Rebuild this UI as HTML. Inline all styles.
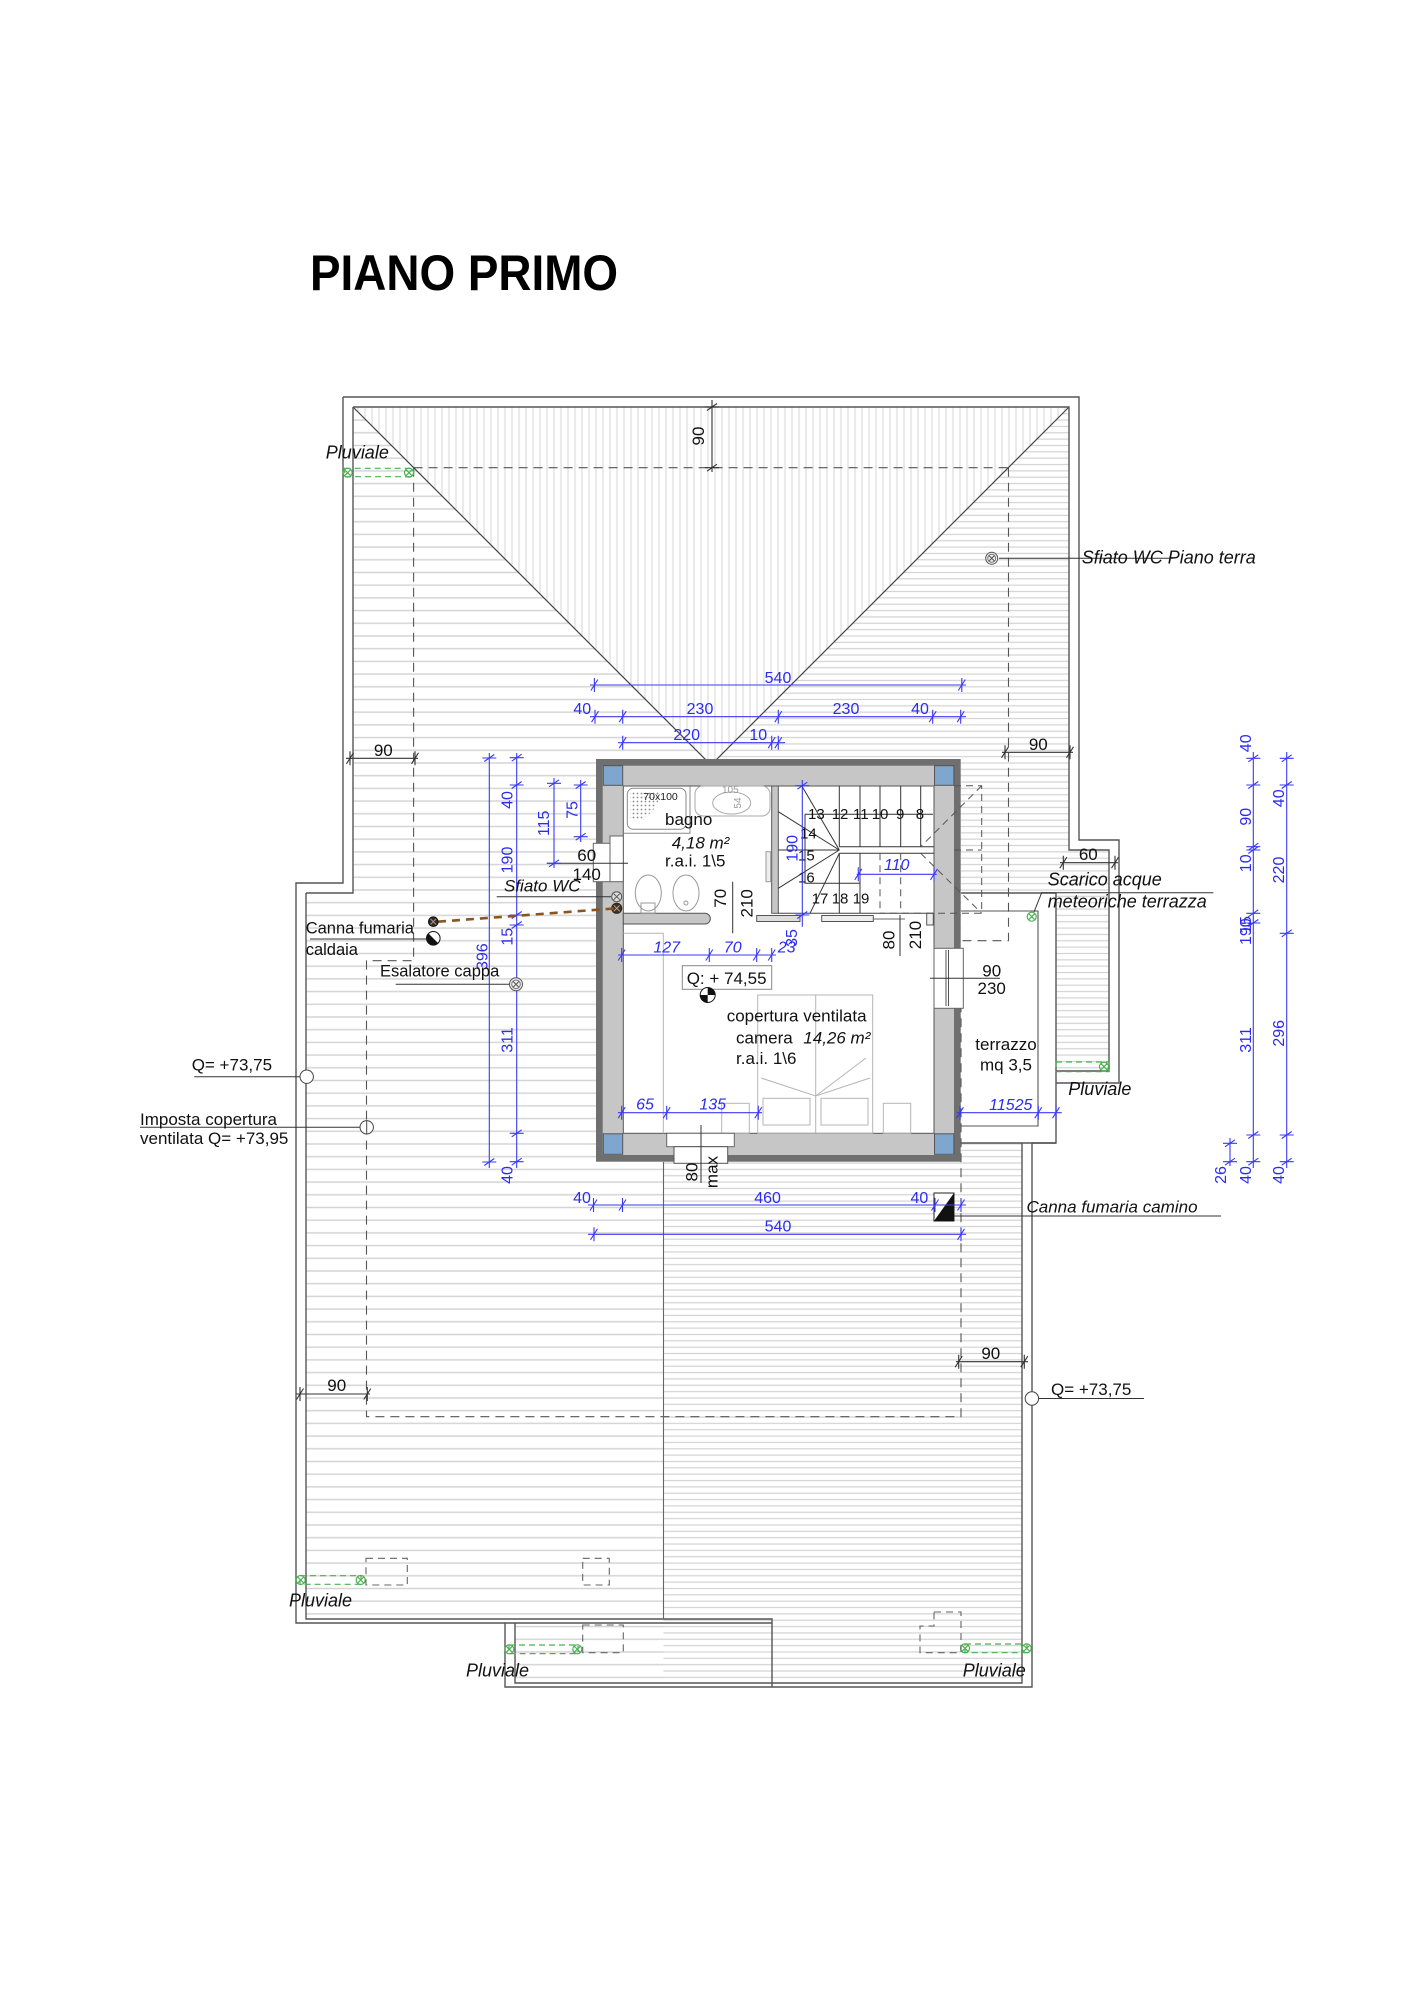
<!DOCTYPE html>
<html><head><meta charset="utf-8"><style>
html,body{margin:0;padding:0;background:#fff}
svg{display:block}
.b{fill:#2b2bf2;font-family:"Liberation Sans",sans-serif;font-size:16px}
.bi{fill:#2b2bf2;font-family:"Liberation Sans",sans-serif;font-size:16px;font-style:italic}
.k{fill:#111;font-family:"Liberation Sans",sans-serif;font-size:17px}
.ki{fill:#111;font-family:"Liberation Sans",sans-serif;font-size:17px;font-style:italic}
.s{fill:#111;font-family:"Liberation Sans",sans-serif;font-size:15px}
</style></head><body>
<svg width="1415" height="1999" viewBox="0 0 1415 1999" xmlns="http://www.w3.org/2000/svg">
<defs>
<pattern id="hh" width="40" height="12.7" patternUnits="userSpaceOnUse"><rect width="40" height="12.7" fill="#fff"/><line x1="0" y1="1" x2="40" y2="1" stroke="#d4d4d4" stroke-width="1.4"/></pattern>
<pattern id="hd" width="40" height="6.35" patternUnits="userSpaceOnUse"><rect width="40" height="6.35" fill="#fff"/><line x1="0" y1="1" x2="40" y2="1" stroke="#d3d3d3" stroke-width="1.2"/></pattern>
<pattern id="vv" width="7" height="40" patternUnits="userSpaceOnUse"><rect width="7" height="40" fill="#fff"/><line x1="1" y1="0" x2="1" y2="40" stroke="#d9d9d9" stroke-width="1.1"/></pattern>
<pattern id="dots" width="4" height="4" patternUnits="userSpaceOnUse"><circle cx="1.5" cy="1.5" r="0.9" fill="#8a8a8a"/></pattern>
</defs>
<rect width="1415" height="1999" fill="#fff"/>

<text x="310" y="290" font-family="Liberation Sans, sans-serif" font-weight="bold" font-size="50" textLength="308" lengthAdjust="spacingAndGlyphs" fill="#000">PIANO PRIMO</text>

<!-- roof hatching -->
<path d="M353,407 H1069 V850 H1109 V1071 H1056 V1143 H1022 V1683 H515 V1621 H306 V893 H353 Z" fill="url(#hh)"/>
<path d="M717,759 L1069,407 V850 H1109 V1071 H1056 V1143 H1022 V1683 H663.5 V1162 H961 V759 Z" fill="url(#hd)"/>
<path d="M353,407 H1069 L711,765 Z" fill="url(#vv)"/>
<rect x="961" y="893" width="95" height="250" fill="#fff"/>

<!-- dashed eave lines -->
<path d="M413.6,467.7 H1008.5 M413.6,467.7 V960.7 H366.5 V1416.7 H961 V1008 M1008.5,467.7 V940.7 H961" fill="none" stroke="#555" stroke-width="1.1" stroke-dasharray="9 6"/>

<!-- hips -->
<path d="M353,407 L711,765 M1069,407 L711,765" stroke="#444" stroke-width="1.2" fill="none"/>

<!-- roof outlines -->
<g fill="none" stroke="#555" stroke-width="1.4">
<path d="M343,397 H1079 V840 H1119 V1083 H1056"/>
<path d="M1056,893 V1143 H1032 V1687 H505 V1623 H296 V883 H343 V397"/>
<path d="M353,407 H1069 V850 H1109 V1071 H1056"/>
<path d="M1022,1143 V1683 H515 V1623"/>
<path d="M306,893 V1619 H772 V1687"/>
<path d="M353,407 V893 H306"/>
<path d="M505,1623 H772"/>
<path d="M961,893 H1056 M961,1143 H1056"/>
<path d="M961,911 H1038 V1126 H961" stroke-width="1.1"/>
<path d="M663.5,1162 V1619" stroke="#666" stroke-width="1.1"/>
</g>

<!-- green pluviali -->
<g fill="none" stroke="#4cb050" stroke-width="1.2">
<rect x="344.7" y="468.3" width="69" height="8.4" stroke-dasharray="6 4"/>
<rect x="300" y="1575.7" width="61" height="8.6" stroke-dasharray="6 4"/>
<rect x="509" y="1645" width="69" height="8.6" stroke-dasharray="6 4"/>
<rect x="965" y="1644" width="62" height="8.7" stroke-dasharray="6 4"/>
<rect x="1056" y="1062" width="53" height="9.7" stroke-dasharray="6 4"/>
<circle cx="347.6" cy="472.7" r="4.5"/><path d="M344.6,469.7 L350.6,475.7 M350.6,469.7 L344.6,475.7"/>
<circle cx="409" cy="472.7" r="4.5"/><path d="M406,469.7 L412,475.7 M412,469.7 L406,475.7"/>
<circle cx="300.7" cy="1580" r="4.5"/><path d="M297.7,1577 L303.7,1583 M303.7,1577 L297.7,1583"/>
<circle cx="360.7" cy="1580" r="4.5"/><path d="M357.7,1577 L363.7,1583 M363.7,1577 L357.7,1583"/>
<circle cx="509.3" cy="1649.3" r="4.5"/><path d="M506.3,1646.3 L512.3,1652.3 M512.3,1646.3 L506.3,1652.3"/>
<circle cx="577.3" cy="1649.3" r="4.5"/><path d="M574.3,1646.3 L580.3,1652.3 M580.3,1646.3 L574.3,1652.3"/>
<circle cx="965" cy="1648.3" r="4.5"/><path d="M962,1645.3 L968,1651.3 M968,1645.3 L962,1651.3"/>
<circle cx="1026.7" cy="1648.3" r="4.5"/><path d="M1023.7,1645.3 L1029.7,1651.3 M1029.7,1645.3 L1023.7,1651.3"/>
<circle cx="1104" cy="1066.7" r="4.5"/><path d="M1101,1063.7 L1107,1069.7 M1107,1063.7 L1101,1069.7"/>
<circle cx="1031.7" cy="916.7" r="4.5"/><path d="M1028.7,913.7 L1034.7,919.7 M1034.7,913.7 L1028.7,919.7"/>
</g>

<!-- gray dashed small rects -->
<g fill="none" stroke="#666" stroke-width="1.1" stroke-dasharray="7 5">
<rect x="366" y="1558.3" width="41.3" height="26.7"/>
<rect x="582.7" y="1558.3" width="26.6" height="26.7"/>
<rect x="582.7" y="1625" width="40.6" height="27.7"/>
<path d="M934,1612 H961 V1652.7 H920 V1626 H934 Z"/>
</g>

<!-- building -->
<rect x="596" y="759" width="364.7" height="402.7" fill="#6f6f6f"/>
<rect x="602.7" y="765.7" width="351.3" height="389.3" fill="#c6c6c6"/>
<rect x="623.3" y="786" width="310.7" height="347.3" fill="#fff" stroke="#555" stroke-width="1"/>
<g fill="#7ea6cf" stroke="#555" stroke-width="1">
<rect x="603.3" y="765.7" width="19.4" height="19.6"/>
<rect x="934.5" y="765.7" width="19.4" height="19.6"/>
<rect x="603.3" y="1133.8" width="19.4" height="20.5"/>
<rect x="934.5" y="1133.8" width="19.4" height="20.5"/>
</g>
<!-- interior walls -->
<rect x="771.7" y="786" width="6.6" height="127.3" fill="#c6c6c6" stroke="#555"/>
<path d="M623.3,913.3 H705 A5.3,5.3 0 0 1 705,924 H623.3 Z" fill="#c6c6c6" stroke="#555"/>
<path d="M778.3,913.3 H934" stroke="#444" fill="none"/>
<rect x="756.7" y="915.5" width="43.3" height="6" fill="#ddd" stroke="#555"/>
<rect x="821.7" y="915.5" width="51.6" height="6" fill="#eee" stroke="#555"/>
<path d="M873.3,919 H905" stroke="#666"/>
<rect x="926.7" y="913.3" width="6.6" height="11.7" fill="#eee" stroke="#555"/>

<!-- stair -->
<g stroke="#333" stroke-width="1" fill="none">
<path d="M839.3,785.7 V846.7 M860,785.7 V846.7 M880,785.7 V846.7 M900.7,785.7 V846.7 M920.7,785.7 V846.7"/>
<path d="M839.3,846.7 H934 M839.3,853.3 H934 M778.3,850 H839.3"/>
<path d="M805,814.3 H933 M805,814.3 V883.3 H860"/>
<path d="M839.3,850 L778.3,811.7 M839.3,850 L801.7,785.7 M839.3,850 L778.3,888.3 M839.3,853.3 L810,913.3"/>
<path d="M839.3,853.3 V913.3 M860,853.3 V913.3"/>
</g>
<g stroke="#555" stroke-width="1" fill="none" stroke-dasharray="7 5">
<path d="M954,785.7 H981.7 V913.3 H880 M954,850 H981.7 M981.7,785.7 L920.7,846.7 M920.7,853.3 L981.7,913.3 M880,853.3 V913.3 M900.7,853.3 V913.3"/>
</g>
<g class="s">
<text x="808" y="819">13</text><text x="831.7" y="819">12</text><text x="853" y="819">11</text><text x="871.7" y="819">10</text><text x="896" y="819">9</text><text x="915.7" y="819">8</text>
<text x="800" y="838.3">14</text><text x="798" y="860.7">15</text><text x="798" y="882.3">16</text>
<text x="811.7" y="903.3">17</text><text x="831.7" y="903.3">18</text><text x="852.7" y="903.3">19</text>
</g>

<!-- bathroom -->
<g fill="none" stroke="#888" stroke-width="1">
<path d="M623.3,833.3 H690 V786"/>
<rect x="627.3" y="788.3" width="58.7" height="41" rx="6"/>
<rect x="695" y="786" width="75" height="30" rx="8" stroke="#aaa"/>
<ellipse cx="731.7" cy="803" rx="19" ry="11" stroke="#aaa"/>
<ellipse cx="648.3" cy="893" rx="13" ry="18" stroke="#999"/>
<rect x="641" y="903" width="14" height="10" stroke="#999"/>
<ellipse cx="686" cy="893" rx="13" ry="18" stroke="#999"/>
<circle cx="686" cy="903" r="2" stroke="#999"/>
</g>
<path d="M630,791 H660 A30,30 0 0 1 630,821 Z" fill="url(#dots)"/>
<text x="643.3" y="800" font-family="Liberation Sans, sans-serif" font-size="10.5" fill="#222">70x100</text>
<text x="722" y="793" font-family="Liberation Sans, sans-serif" font-size="10" fill="#999">105</text>
<text transform="translate(741,803) rotate(-90)" text-anchor="middle" font-family="Liberation Sans, sans-serif" font-size="10" fill="#999">54</text>
<rect x="766" y="851.7" width="4.7" height="30" fill="#eee" stroke="#999"/>
<text class="k" x="665" y="825" font-size="16.5">bagno</text>
<text class="ki" x="671.7" y="848.3" font-size="13">4,18 m²</text>
<text class="k" x="665" y="866.7" font-size="16.5">r.a.i. 1\5</text>
<!-- bath window left -->
<rect x="610" y="836" width="13.3" height="45.7" fill="#fff" stroke="#666"/>
<rect x="593.3" y="843.3" width="16.7" height="38.4" fill="#fff" stroke="#666"/>
<path d="M546.7,863.3 H628" stroke="#333" stroke-width="1"/>
<text class="k" x="586.7" y="861" text-anchor="middle" font-size="18">60</text>
<text class="k" x="586.7" y="880" text-anchor="middle" font-size="18">140</text>
<!-- vents -->
<circle cx="616.7" cy="896.7" r="5" fill="#ddd" stroke="#555"/><path d="M613.7,893.7 L619.7,899.7 M619.7,893.7 L613.7,899.7" stroke="#555"/>
<circle cx="616.7" cy="908.3" r="5" fill="#4a3015" stroke="#222"/><path d="M613.7,905.3 L619.7,911.3 M619.7,905.3 L613.7,911.3" stroke="#aaa"/>
<!-- doors -->
<path d="M732.7,881.7 V933.3 M900,915 V956" stroke="#333" stroke-width="1"/>
<text class="k" transform="translate(726,898.3) rotate(-90)" text-anchor="middle">70</text>
<text class="k" transform="translate(752.7,903.3) rotate(-90)" text-anchor="middle">210</text>
<text class="k" transform="translate(894.3,940) rotate(-90)" text-anchor="middle">80</text>
<text class="k" transform="translate(921,935) rotate(-90)" text-anchor="middle">210</text>

<!-- camera -->
<g fill="none" stroke="#b5b5b5" stroke-width="1">
<path d="M623.3,933.3 H663.3 V1133.3"/>
<rect x="757.7" y="995" width="115" height="138.3"/>
<path d="M815.7,995 V1133.3"/>
<rect x="763" y="1098.3" width="47" height="26.7"/>
<rect x="821" y="1098.3" width="47" height="26.7"/>
<path d="M761,1078 L815.7,1096 L870,1078 M815.7,1096 L866,1058"/>
<rect x="721.7" y="1103.3" width="27.6" height="30"/>
<rect x="883.3" y="1103.3" width="27.4" height="30"/>
</g>
<rect x="682.3" y="965.7" width="89.4" height="23.6" fill="#fff" stroke="#888"/>
<text class="k" x="686.7" y="984" font-size="16.5">Q: + 74,55</text>
<circle cx="707.7" cy="995" r="7.5" fill="#fff" stroke="#111"/>
<path d="M707.7,995 L707.7,987.5 A7.5,7.5 0 0 1 715.2,995 Z M707.7,995 L707.7,1002.5 A7.5,7.5 0 0 1 700.2,995 Z" fill="#111"/>
<text class="k" x="726.7" y="1021.7" font-size="16.5">copertura ventilata</text>
<text class="k" x="736" y="1043.3" font-size="16.5">camera</text>
<text class="ki" x="803.3" y="1043.3" font-size="13">14,26 m²</text>
<text class="k" x="736" y="1064" font-size="16.5">r.a.i. 1\6</text>
<!-- right window -->
<rect x="934" y="948.3" width="29.3" height="60" fill="#fff" stroke="#666"/>
<path d="M946,950 V1006 M948.5,950 V1006" stroke="#555"/>
<path d="M930,978.3 H1000" stroke="#333"/>
<text class="k" x="991.7" y="976.7" text-anchor="middle" font-size="18">90</text>
<text class="k" x="991.7" y="994" text-anchor="middle" font-size="18">230</text>
<!-- bottom window -->
<rect x="666.7" y="1133.3" width="67.6" height="13.4" fill="#fff" stroke="#666"/>
<rect x="674" y="1146.7" width="53.7" height="16.6" fill="#fff" stroke="#555"/>
<path d="M701,1125 V1183" stroke="#333"/>
<text class="k" transform="translate(697.7,1172) rotate(-90)" text-anchor="middle">80</text>
<text class="k" transform="translate(717.5,1172) rotate(-90)" text-anchor="middle">max</text>

<!-- terrace labels -->
<text class="k" x="1006" y="1050" text-anchor="middle">terrazzo</text>
<text class="k" x="1006" y="1070.7" text-anchor="middle">mq 3,5</text>

<!-- canna fumaria camino -->
<rect x="934" y="1193" width="20" height="28" fill="#fff" stroke="#222"/>
<path d="M954,1193 L954,1221 L934,1221 Z" fill="#111"/>
<path d="M954,1216 H1221" stroke="#333"/>
<text class="ki" x="1026.5" y="1212.7" font-size="17.5">Canna fumaria  camino</text>

<!-- blue dimensions -->
<g stroke="#3a3af5" stroke-width="1.1" fill="none">
<path d="M590,685 H966 M590,716.7 H966 M618,742.7 H785 M588,1205 H966 M588,1234.3 H966 M618,955 H776 M618,1112.7 H762 M956.7,1112.7 H1061.7 M856.7,874.3 H936.7"/>
<path d="M802.3,780 V926.7 M489.3,753 V1168 M516.7,753 V1168 M554,778 V868 M580.7,780 V842 M1253.3,752 V1168 M1286.7,752 V1168 M1230,1138 V1166"/>
<path d="M590.9,690.5L597.9,679.5M594.4,678V692 M958.3,690.5L965.3,679.5M961.8,678V692
M591.5,722.2L598.5,711.2M595,709.7V723.7 M619.2,722.2L626.2,711.2M622.7,709.7V723.7 M774.8,722.2L781.8,711.2M778.3,709.7V723.7 M929.2,722.2L936.2,711.2M932.7,709.7V723.7 M957.2,722.2L964.2,711.2M960.7,709.7V723.7
M619.2,748.2L626.2,737.2M622.7,735.7V749.7 M768.2,748.2L775.2,737.2M771.7,735.7V749.7 M774.8,748.2L781.8,737.2M778.3,735.7V749.7
M590,1210.5L597,1199.5M593.5,1198V1212 M619,1210.5L626,1199.5M622.5,1198V1212 M931.5,1210.5L938.5,1199.5M935,1198V1212 M957.5,1210.5L964.5,1199.5M961,1198V1212
M590.5,1239.8L597.5,1228.8M594,1227.3V1241.3 M957.5,1239.8L964.5,1228.8M961,1227.3V1241.3
M618.2,960.5L625.2,949.5M621.7,948V962 M705.8,960.5L712.8,949.5M709.3,948V962 M753.2,960.5L760.2,949.5M756.7,948V962 M768.2,960.5L775.2,949.5M771.7,948V962
M618.2,1118.2L625.2,1107.2M621.7,1105.7V1119.7 M663.2,1118.2L670.2,1107.2M666.7,1105.7V1119.7 M754.8,1118.2L761.8,1107.2M758.3,1105.7V1119.7
M956.5,1118.2L963.5,1107.2M960,1105.7V1119.7 M1034.8,1118.2L1041.8,1107.2M1038.3,1105.7V1119.7 M1052.5,1118.2L1059.5,1107.2M1056,1105.7V1119.7
M854.8,879.8L861.8,868.8M858.3,867.3V881.3 M930.5,879.8L937.5,868.8M934,867.3V881.3"/>
<path d="M795.3,785.7H809.3M797.3,789.2L807.3,782.2 M795.3,915H809.3M797.3,918.5L807.3,911.5
M482.3,758H496.3M484.3,761.5L494.3,754.5 M482.3,1162H496.3M484.3,1165.5L494.3,1158.5
M509.7,757.7H523.7M511.7,761.2L521.7,754.2 M509.7,785H523.7M511.7,788.5L521.7,781.5 M509.7,915H523.7M511.7,918.5L521.7,911.5 M509.7,925H523.7M511.7,928.5L521.7,921.5 M509.7,1133.3H523.7M511.7,1136.8L521.7,1129.8 M509.7,1161.7H523.7M511.7,1165.2L521.7,1158.2
M547,783.3H561M549,786.8L559,779.8 M547,863.3H561M549,866.8L559,859.8
M573.7,785H587.7M575.7,788.5L585.7,781.5 M573.7,836.7H587.7M575.7,840.2L585.7,833.2
M1246.3,758.3H1260.3M1248.3,761.8L1258.3,754.8 M1246.3,785H1260.3M1248.3,788.5L1258.3,781.5 M1246.3,846.7H1260.3M1248.3,850.2L1258.3,843.2 M1246.3,850H1260.3M1248.3,853.5L1258.3,846.5 M1246.3,913.3H1260.3M1248.3,916.8L1258.3,909.8 M1246.3,923H1260.3M1248.3,926.5L1258.3,919.5 M1246.3,1135H1260.3M1248.3,1138.5L1258.3,1131.5 M1246.3,1161.7H1260.3M1248.3,1165.2L1258.3,1158.2
M1279.7,758.3H1293.7M1281.7,761.8L1291.7,754.8 M1279.7,785H1293.7M1281.7,788.5L1291.7,781.5 M1279.7,933.3H1293.7M1281.7,936.8L1291.7,929.8 M1279.7,1135H1293.7M1281.7,1138.5L1291.7,1131.5 M1279.7,1161.7H1293.7M1281.7,1165.2L1291.7,1158.2
M1223,1143.3H1237M1225,1146.8L1235,1139.8 M1223,1161.7H1237M1225,1165.2L1235,1158.2"/>
</g>
<g class="b" text-anchor="middle">
<text x="778" y="683">540</text>
<text x="582.3" y="714">40</text><text x="700" y="714">230</text><text x="846" y="714">230</text><text x="920" y="714">40</text>
<text x="686.7" y="740">220</text><text x="758.3" y="740">10</text>
<text x="582" y="1203">40</text><text x="767.6" y="1203">460</text><text x="919.4" y="1203">40</text>
<text x="778" y="1231.7">540</text>
</g>
<g class="bi" text-anchor="middle">
<text x="666.7" y="952.5">127</text><text x="732.7" y="952.5">70</text><text x="786.7" y="952.5">23</text>
<text x="645" y="1109.3">65</text><text x="712.7" y="1109.3">135</text>
<text x="1010.8" y="1110">11525</text>
<text x="896.7" y="870">110</text>
</g>
<g class="b" text-anchor="middle">
<text transform="translate(487.5,956.7) rotate(-90)">396</text>
<text transform="translate(512.5,800) rotate(-90)">40</text>
<text transform="translate(512.5,860) rotate(-90)">190</text>
<text transform="translate(512.5,936.7) rotate(-90)">15</text>
<text transform="translate(512.5,1040) rotate(-90)">311</text>
<text transform="translate(512.5,1175) rotate(-90)">40</text>
<text transform="translate(549,823.3) rotate(-90)">115</text>
<text transform="translate(577.5,810) rotate(-90)">75</text>
<text transform="translate(797.5,848.3) rotate(-90)">190</text>
<text transform="translate(797,938) rotate(-90)">35</text>
<text transform="translate(1251,743.3) rotate(-90)">40</text>
<text transform="translate(1251,816.7) rotate(-90)">90</text>
<text transform="translate(1251,863.3) rotate(-90)">10</text>
<text transform="translate(1251,931.7) rotate(-90)">190</text>
<text transform="translate(1251,925) rotate(-90)">15</text>
<text transform="translate(1251,1040) rotate(-90)">311</text>
<text transform="translate(1251,1175) rotate(-90)">40</text>
<text transform="translate(1284,798.3) rotate(-90)">40</text>
<text transform="translate(1284,870) rotate(-90)">220</text>
<text transform="translate(1284,1033.3) rotate(-90)">296</text>
<text transform="translate(1284,1175) rotate(-90)">40</text>
<text transform="translate(1226,1175) rotate(-90)">26</text>
</g>

<!-- black dimensions -->
<g stroke="#333" stroke-width="1.1" fill="none">
<path d="M346,758.3 H418 M1002,752.3 H1073 M1060,862.7 H1118 M296,1394 H370 M956,1361.7 H1028 M712,400 V472"/>
<path d="M346.5,763.8L353.5,752.8M350,751.3V765.3 M411.5,763.8L418.5,752.8M415,751.3V765.3
M1001.5,757.8L1008.5,746.8M1005,745.3V759.3 M1066.5,757.8L1073.5,746.8M1070,745.3V759.3
M1059.8,868.2L1066.8,857.2M1063.3,855.7V869.7 M1111.5,868.2L1118.5,857.2M1115,855.7V869.7
M296.5,1399.5L303.5,1388.5M300,1387V1401 M363.8,1399.5L370.8,1388.5M367.3,1387V1401
M955.2,1367.2L962.2,1356.2M958.7,1354.7V1368.7 M1020.8,1367.2L1027.8,1356.2M1024.3,1354.7V1368.7
M705,407H719M707,410.5L717,403.5 M705,467.7H719M707,471.2L717,464.2"/>
</g>
<g class="k" text-anchor="middle">
<text x="383.3" y="756">90</text>
<text x="1038.3" y="750">90</text>
<text x="1088.3" y="860">60</text>
<text x="336.7" y="1391">90</text>
<text x="990.8" y="1359">90</text>
<text transform="translate(704,436) rotate(-90)">90</text>
</g>

<!-- labels & leaders -->
<g stroke="#333" stroke-width="1" fill="none">
<path d="M999,558.3 H1173"/>
<path d="M496.7,896.7 H611"/>
<path d="M310,939 H426"/>
<path d="M395.7,984.3 H509.5"/>
<path d="M194.3,1076.7 H300"/>
<path d="M140,1127.3 H360"/>
<path d="M1034,912 L1041.7,892.7 H1213.3"/>
<path d="M1038.5,1398.5 H1144"/>
</g>
<circle cx="991.7" cy="558.3" r="6" fill="#eee" stroke="#555"/><circle cx="991.7" cy="558.3" r="4" fill="none" stroke="#777"/><path d="M989,555.6 L994.4,561 M994.4,555.6 L989,561" stroke="#555"/>
<circle cx="516" cy="984.3" r="6.5" fill="#eee" stroke="#555"/><circle cx="516" cy="984.3" r="4.3" fill="none" stroke="#777"/><path d="M513.2,981.5 L518.8,987.1 M518.8,981.5 L513.2,987.1" stroke="#555"/>
<circle cx="306.7" cy="1076.7" r="6.7" fill="#fff" stroke="#444"/>
<circle cx="366.7" cy="1127.3" r="6.7" fill="#fff" stroke="#444"/><path d="M366.7,1121 V1134" stroke="#444"/>
<circle cx="1031.9" cy="1398.5" r="6.7" fill="#fff" stroke="#444"/>
<!-- canna fumaria caldaia -->
<path d="M438,921.7 L616.7,908.3" stroke="#8a5520" stroke-width="2.6" stroke-dasharray="8 6" fill="none"/>
<circle cx="433.3" cy="921.7" r="4.8" fill="#3a2a18" stroke="#111"/><path d="M430.5,918.9 L436.1,924.5 M436.1,918.9 L430.5,924.5" stroke="#999"/>
<circle cx="433.3" cy="938.3" r="6.8" fill="#fff" stroke="#111"/>
<path d="M428.5,933.5 A6.8,6.8 0 0 0 438.1,943.1 Z" fill="#111"/>

<g class="ki" font-size="18">
<text x="325.8" y="458.3" font-size="18">Pluviale</text>
<text x="289" y="1606.7" font-size="18">Pluviale</text>
<text x="466" y="1676.7" font-size="18">Pluviale</text>
<text x="962.7" y="1676.7" font-size="18">Pluviale</text>
<text x="1068.3" y="1095" font-size="18">Pluviale</text>
<text x="1081.7" y="563.3" font-size="18">Sfiato WC Piano terra</text>
<text x="504" y="891.7" font-size="17">Sfiato WC</text>
<text x="1047.7" y="885.7" font-size="18">Scarico acque</text>
<text x="1047.7" y="907.7" font-size="18">meteoriche terrazza</text>
</g>
<g class="k">
<text x="305.7" y="933.3" font-size="16.5">Canna fumaria</text>
<text x="305.7" y="955" font-size="16.5">caldaia</text>
<text x="380" y="976.7" font-size="16.5">Esalatore cappa</text>
<text x="191.7" y="1070.7">Q= +73,75</text>
<text x="140" y="1125">Imposta copertura</text>
<text x="140" y="1144">ventilata Q= +73,95</text>
<text x="1051" y="1395">Q= +73,75</text>
</g>
</svg>
</body></html>
